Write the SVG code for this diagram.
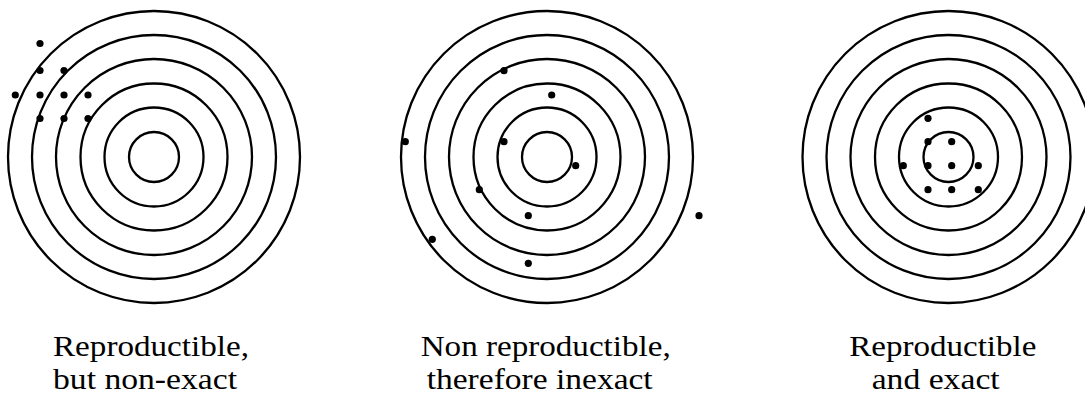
<svg xmlns="http://www.w3.org/2000/svg" width="1085" height="396" viewBox="0 0 1085 396">
<defs>
<style>
.ring{fill:none;stroke:#000;stroke-width:2.3}
.dot{fill:#000}
.lbl{font-family:"Liberation Serif","Times New Roman",serif;font-size:30px;fill:#000}
</style>
<g id="rings">
<circle class="ring" r="146"/>
<circle class="ring" r="122"/>
<circle class="ring" r="98"/>
<circle class="ring" r="73.5"/>
<circle class="ring" r="49.5"/>
<circle class="ring" r="25"/>
</g>
</defs>
<rect width="1085" height="396" fill="#fff"/>
<g id="target1">
<use href="#rings" x="154" y="157"/>
<g class="dot">
<circle cx="40" cy="43.5" r="3.6"/>
<circle cx="40" cy="70.5" r="3.6"/>
<circle cx="64" cy="70.5" r="3.6"/>
<circle cx="15.3" cy="95" r="3.6"/>
<circle cx="40" cy="95" r="3.6"/>
<circle cx="64" cy="95" r="3.6"/>
<circle cx="88" cy="95" r="3.6"/>
<circle cx="40" cy="118.5" r="3.6"/>
<circle cx="64" cy="118.5" r="3.6"/>
<circle cx="88" cy="118.5" r="3.6"/>
</g>
<text class="lbl" x="53" y="356" textLength="196" lengthAdjust="spacingAndGlyphs">Reproductible,</text>
<text class="lbl" x="53" y="389.3" textLength="184" lengthAdjust="spacingAndGlyphs">but non-exact</text>
</g>
<g id="target2">
<use href="#rings" x="547" y="157"/>
<g class="dot">
<circle cx="504" cy="70.7" r="3.6"/>
<circle cx="551.7" cy="95" r="3.6"/>
<circle cx="405.3" cy="141.7" r="3.6"/>
<circle cx="504" cy="141.7" r="3.6"/>
<circle cx="575.7" cy="165.7" r="3.6"/>
<circle cx="479.3" cy="189.7" r="3.6"/>
<circle cx="528.3" cy="215.7" r="3.6"/>
<circle cx="699" cy="215.7" r="3.6"/>
<circle cx="432.3" cy="239.3" r="3.6"/>
<circle cx="528.3" cy="263.3" r="3.6"/>
</g>
<text class="lbl" x="420.7" y="356" textLength="250" lengthAdjust="spacingAndGlyphs">Non reproductible,</text>
<text class="lbl" x="426.7" y="389.3" textLength="226" lengthAdjust="spacingAndGlyphs">therefore inexact</text>
</g>
<g id="target3">
<use href="#rings" x="948.5" y="157"/>
<g class="dot">
<circle cx="928" cy="118.3" r="3.6"/>
<circle cx="928" cy="141.7" r="3.6"/>
<circle cx="951.7" cy="141.7" r="3.6"/>
<circle cx="903.3" cy="165.7" r="3.6"/>
<circle cx="928" cy="165.7" r="3.6"/>
<circle cx="951.7" cy="165.7" r="3.6"/>
<circle cx="978.3" cy="165.7" r="3.6"/>
<circle cx="928" cy="189.7" r="3.6"/>
<circle cx="951.7" cy="189.7" r="3.6"/>
<circle cx="978.3" cy="189.7" r="3.6"/>
</g>
<text class="lbl" x="849.3" y="356" textLength="187" lengthAdjust="spacingAndGlyphs">Reproductible</text>
<text class="lbl" x="871.7" y="389.3" textLength="128" lengthAdjust="spacingAndGlyphs">and exact</text>
</g>
</svg>
